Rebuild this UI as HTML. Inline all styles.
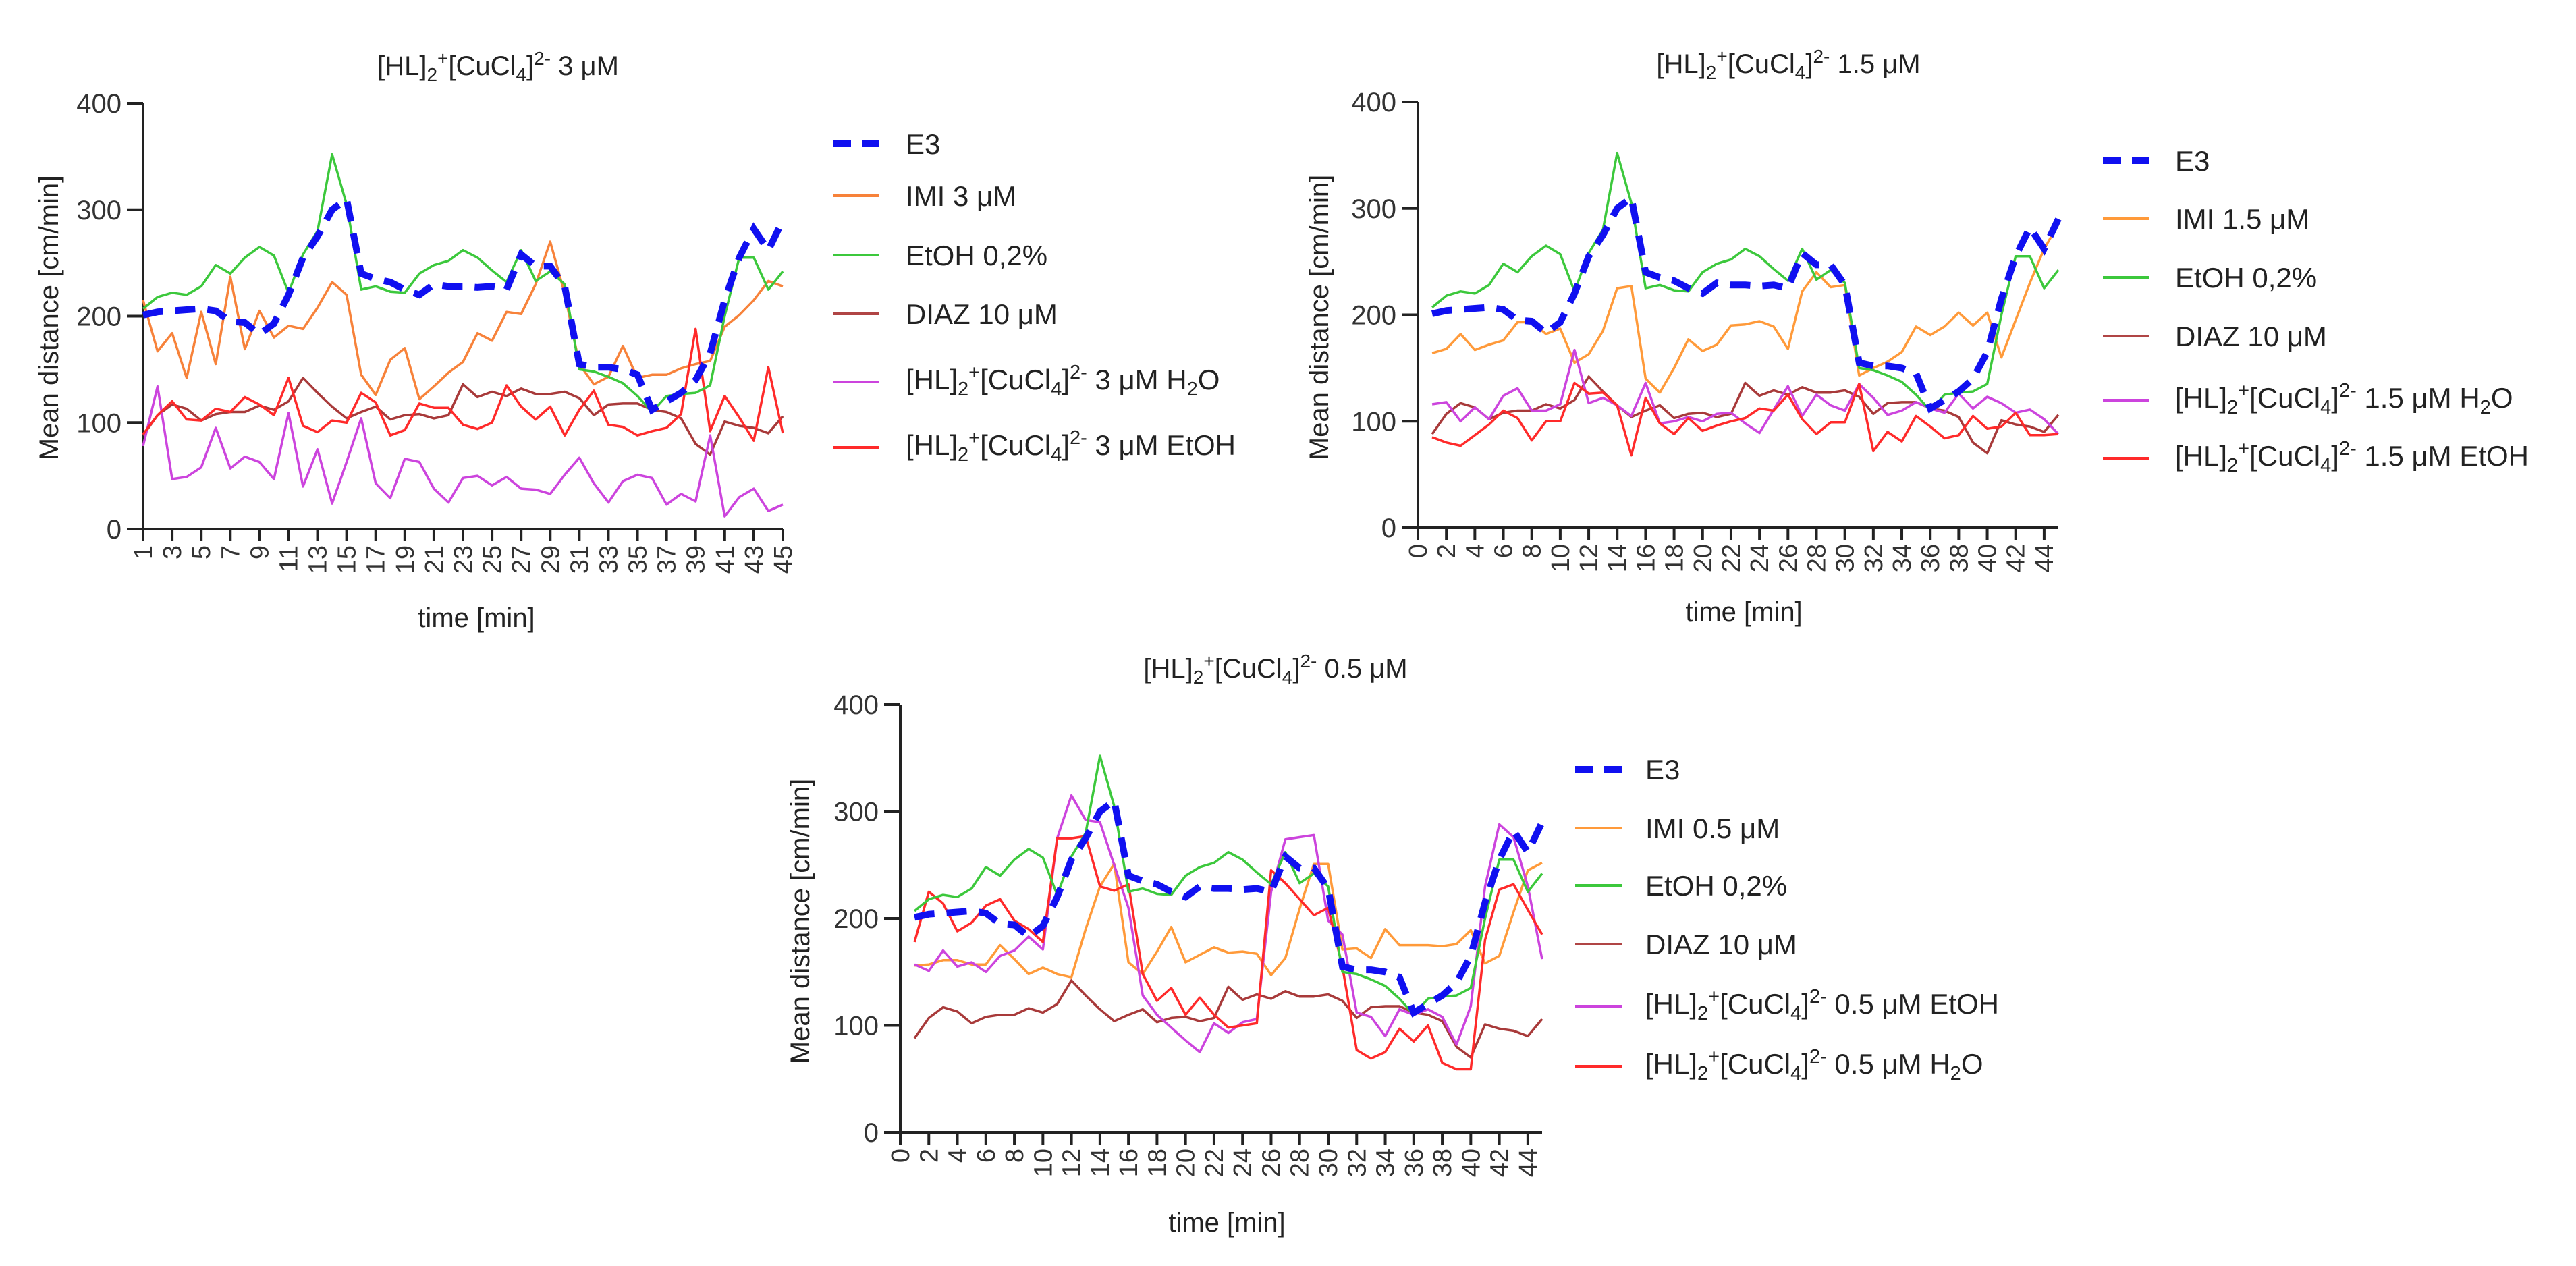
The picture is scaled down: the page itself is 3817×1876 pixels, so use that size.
<!DOCTYPE html>
<html><head><meta charset="utf-8"><style>
html,body{margin:0;padding:0;background:#fff;}
svg{display:block;font-family:"Liberation Sans",Arial,sans-serif;}
</style></head><body>
<svg id="fig" width="3817" height="1876" viewBox="0 0 3817 1876" xmlns="http://www.w3.org/2000/svg">
<rect width="3817" height="1876" fill="#fff"/>
<!-- titles -->
<text x="738" y="111" font-size="40" text-anchor="middle" fill="#222">[HL]<tspan font-size="28" dy="9">2</tspan><tspan font-size="28" dy="-24">+</tspan><tspan dy="15">[CuCl</tspan><tspan font-size="28" dy="9">4</tspan><tspan dy="-9">]</tspan><tspan font-size="28" dy="-15">2-</tspan><tspan dy="15"> 3 μM</tspan></text>
<text x="2650" y="108" font-size="40" text-anchor="middle" fill="#222">[HL]<tspan font-size="28" dy="9">2</tspan><tspan font-size="28" dy="-24">+</tspan><tspan dy="15">[CuCl</tspan><tspan font-size="28" dy="9">4</tspan><tspan dy="-9">]</tspan><tspan font-size="28" dy="-15">2-</tspan><tspan dy="15"> 1.5 μM</tspan></text>
<text x="1890" y="1004" font-size="40" text-anchor="middle" fill="#222">[HL]<tspan font-size="28" dy="9">2</tspan><tspan font-size="28" dy="-24">+</tspan><tspan dy="15">[CuCl</tspan><tspan font-size="28" dy="9">4</tspan><tspan dy="-9">]</tspan><tspan font-size="28" dy="-15">2-</tspan><tspan dy="15"> 0.5 μM</tspan></text>
<!-- y labels -->
<text transform="translate(86,471) rotate(-90)" font-size="40" text-anchor="middle" fill="#222">Mean distance [cm/min]</text>
<text transform="translate(1968,470) rotate(-90)" font-size="40" text-anchor="middle" fill="#222">Mean distance [cm/min]</text>
<text transform="translate(1199,1365) rotate(-90)" font-size="40" text-anchor="middle" fill="#222">Mean distance [cm/min]</text>
<!-- x labels -->
<text x="706" y="929" font-size="40" text-anchor="middle" fill="#222">time [min]</text>
<text x="2584" y="920" font-size="40" text-anchor="middle" fill="#222">time [min]</text>
<text x="1818" y="1825" font-size="40" text-anchor="middle" fill="#222">time [min]</text>

<!-- legend chart 1 -->
<g font-size="42" fill="#222">
<line x1="1234" y1="213" x2="1303" y2="213" stroke="#1010f0" stroke-width="10" stroke-dasharray="27 16"/>
<text x="1342" y="228">E3</text>
<line x1="1234" y1="290" x2="1303" y2="290" stroke="#f7823a" stroke-width="4"/>
<text x="1342" y="305">IMI 3 μM</text>
<line x1="1234" y1="378" x2="1303" y2="378" stroke="#3cc83c" stroke-width="4"/>
<text x="1342" y="393">EtOH 0,2%</text>
<line x1="1234" y1="465" x2="1303" y2="465" stroke="#b04545" stroke-width="4"/>
<text x="1342" y="480">DIAZ 10 μM</text>
<line x1="1234" y1="566" x2="1303" y2="566" stroke="#cc44dd" stroke-width="4"/>
<text x="1342" y="577">[HL]<tspan font-size="29" dy="9">2</tspan><tspan font-size="29" dy="-25">+</tspan><tspan dy="16">[CuCl</tspan><tspan font-size="29" dy="9">4</tspan><tspan dy="-9">]</tspan><tspan font-size="29" dy="-16">2-</tspan><tspan dy="16"> 3 μM H</tspan><tspan font-size="29" dy="9">2</tspan><tspan dy="-9">O</tspan></text>
<line x1="1234" y1="663" x2="1303" y2="663" stroke="#ff2a2a" stroke-width="4"/>
<text x="1342" y="674">[HL]<tspan font-size="29" dy="9">2</tspan><tspan font-size="29" dy="-25">+</tspan><tspan dy="16">[CuCl</tspan><tspan font-size="29" dy="9">4</tspan><tspan dy="-9">]</tspan><tspan font-size="29" dy="-16">2-</tspan><tspan dy="16"> 3 μM EtOH</tspan></text>
</g>
<!-- legend chart 2 -->
<g font-size="42" fill="#222">
<line x1="3116" y1="238" x2="3185" y2="238" stroke="#1010f0" stroke-width="10" stroke-dasharray="27 16"/>
<text x="3223" y="253">E3</text>
<line x1="3116" y1="324" x2="3185" y2="324" stroke="#ff9a3a" stroke-width="4"/>
<text x="3223" y="339">IMI 1.5 μM</text>
<line x1="3116" y1="411" x2="3185" y2="411" stroke="#3cc83c" stroke-width="4"/>
<text x="3223" y="426">EtOH 0,2%</text>
<line x1="3116" y1="498" x2="3185" y2="498" stroke="#b04545" stroke-width="4"/>
<text x="3223" y="513">DIAZ 10 μM</text>
<line x1="3116" y1="593" x2="3185" y2="593" stroke="#cc44dd" stroke-width="4"/>
<text x="3223" y="604">[HL]<tspan font-size="29" dy="9">2</tspan><tspan font-size="29" dy="-25">+</tspan><tspan dy="16">[CuCl</tspan><tspan font-size="29" dy="9">4</tspan><tspan dy="-9">]</tspan><tspan font-size="29" dy="-16">2-</tspan><tspan dy="16"> 1.5 μM H</tspan><tspan font-size="29" dy="9">2</tspan><tspan dy="-9">O</tspan></text>
<line x1="3116" y1="679" x2="3185" y2="679" stroke="#ff2a2a" stroke-width="4"/>
<text x="3223" y="690">[HL]<tspan font-size="29" dy="9">2</tspan><tspan font-size="29" dy="-25">+</tspan><tspan dy="16">[CuCl</tspan><tspan font-size="29" dy="9">4</tspan><tspan dy="-9">]</tspan><tspan font-size="29" dy="-16">2-</tspan><tspan dy="16"> 1.5 μM EtOH</tspan></text>
</g>
<!-- legend chart 3 -->
<g font-size="42" fill="#222">
<line x1="2334" y1="1140" x2="2403" y2="1140" stroke="#1010f0" stroke-width="10" stroke-dasharray="27 16"/>
<text x="2438" y="1155">E3</text>
<line x1="2334" y1="1227" x2="2403" y2="1227" stroke="#ff9a3a" stroke-width="4"/>
<text x="2438" y="1242">IMI 0.5 μM</text>
<line x1="2334" y1="1312" x2="2403" y2="1312" stroke="#3cc83c" stroke-width="4"/>
<text x="2438" y="1327">EtOH 0,2%</text>
<line x1="2334" y1="1399" x2="2403" y2="1399" stroke="#b04545" stroke-width="4"/>
<text x="2438" y="1414">DIAZ 10 μM</text>
<line x1="2334" y1="1491" x2="2403" y2="1491" stroke="#cc44dd" stroke-width="4"/>
<text x="2438" y="1502">[HL]<tspan font-size="29" dy="9">2</tspan><tspan font-size="29" dy="-25">+</tspan><tspan dy="16">[CuCl</tspan><tspan font-size="29" dy="9">4</tspan><tspan dy="-9">]</tspan><tspan font-size="29" dy="-16">2-</tspan><tspan dy="16"> 0.5 μM EtOH</tspan></text>
<line x1="2334" y1="1580" x2="2403" y2="1580" stroke="#ff2a2a" stroke-width="4"/>
<text x="2438" y="1591">[HL]<tspan font-size="29" dy="9">2</tspan><tspan font-size="29" dy="-25">+</tspan><tspan dy="16">[CuCl</tspan><tspan font-size="29" dy="9">4</tspan><tspan dy="-9">]</tspan><tspan font-size="29" dy="-16">2-</tspan><tspan dy="16"> 0.5 μM H</tspan><tspan font-size="29" dy="9">2</tspan><tspan dy="-9">O</tspan></text>
</g>
</svg>
<script>
const time = [1,2,3,4,5,6,7,8,9,10,11,12,13,14,15,16,17,18,19,20,21,22,23,24,25,26,27,28,29,30,31,32,33,34,35,36,37,38,39,40,41,42,43,44,45];
const yTicks = [0,100,200,300,400];
const xTicksOdd = [1,3,5,7,9,11,13,15,17,19,21,23,25,27,29,31,33,35,37,39,41,43,45];
const xTicksEven = [0,2,4,6,8,10,12,14,16,18,20,22,24,26,28,30,32,34,36,38,40,42,44];
const e3 = [201,204,205,206,207,205,195,194,183,193,220,255,275,300,310,240,235,232,225,220,230,228,228,227,228,225,258,247,247,228,155,152,152,150,145,112,120,128,140,165,215,255,282,262,290];
const etoh = [207,218,222,220,228,248,240,255,265,257,222,258,280,352,305,225,228,223,222,240,248,252,262,255,243,232,262,233,242,230,150,148,143,137,125,110,125,127,128,135,200,255,255,225,242];
const diaz = [88,107,117,113,102,108,110,110,116,112,120,142,128,115,104,110,115,103,107,108,104,107,136,124,129,125,132,127,127,129,123,107,117,118,118,112,110,104,80,70,101,97,95,90,106];
const imi3 = [215,167,184,142,204,155,237,169,205,180,191,188,208,232,220,145,126,159,170,122,134,147,157,184,177,204,202,230,270,221,155,136,143,172,142,145,145,151,155,158,190,201,215,233,228];
const h2o3 = [78,134,47,49,58,95,57,68,63,47,109,40,75,24,63,104,43,29,66,63,38,25,48,50,41,49,38,37,33,51,67,43,25,45,51,48,23,33,26,88,12,30,38,17,23];
const etoh3 = [89,107,120,103,102,113,110,124,117,107,142,97,91,102,100,128,119,88,93,118,114,114,98,94,100,135,115,103,115,88,112,130,98,96,88,92,95,108,188,92,125,105,83,152,90];
const imi15 = [164,168,182,167,172,176,193,193,182,187,155,163,185,225,227,140,127,150,177,166,172,190,191,194,189,168,222,240,226,228,143,150,156,165,189,181,189,202,190,202,160,195,230,262,285];
const h2o15 = [116,118,100,113,102,124,131,110,110,116,167,117,122,115,105,136,98,100,104,100,107,108,98,89,111,133,105,125,115,110,135,122,106,110,118,112,108,126,112,123,117,108,111,102,88];
const etoh15 = [85,80,77,87,97,110,103,82,100,100,136,126,127,115,68,122,98,88,103,91,96,100,103,112,110,125,102,88,99,99,135,72,90,81,105,95,84,87,105,93,95,108,87,87,88];
const imi05 = [156,157,161,161,157,157,175,162,148,154,148,145,190,230,251,159,148,169,192,159,166,173,168,169,167,147,163,209,251,251,171,172,163,190,175,175,175,174,176,189,158,165,206,245,252];
const etoh05 = [157,151,170,155,159,150,165,170,183,171,275,315,292,290,250,210,128,110,98,86,75,102,93,103,106,225,274,276,278,198,185,112,108,90,115,110,115,108,82,118,230,288,276,230,162];
const h2o05 = [178,225,214,188,196,212,218,198,190,178,275,275,277,230,226,232,148,123,135,110,126,110,98,100,102,245,233,218,203,210,155,77,69,75,97,85,100,65,59,59,180,227,232,208,185];

const NS = 'http://www.w3.org/2000/svg';
const svg = document.getElementById('fig');
function mk(tag, attrs, parent){
  const el = document.createElementNS(NS, tag);
  for (const k in attrs) el.setAttribute(k, attrs[k]);
  (parent || svg).appendChild(el);
  return el;
}
const charts = [
  {id:'chart1', axisX:212, tmin:1, tmax:45, xEnd:1160, y0:784, y400:153, ticks:xTicksOdd,
   series:[['imi',imi3,'#f7823a'],['diaz',diaz,'#a83a3a'],['h2o',h2o3,'#cc44dd'],['etoh-compound',etoh3,'#ff2a2a'],['etoh',etoh,'#3cc83c']]},
  {id:'chart2', axisX:2101, tmin:0, tmax:45, xEnd:3050, y0:782, y400:151, ticks:xTicksEven,
   series:[['imi',imi15,'#ff9a3a'],['diaz',diaz,'#a83a3a'],['h2o',h2o15,'#cc44dd'],['etoh-compound',etoh15,'#ff2a2a'],['etoh',etoh,'#3cc83c']]},
  {id:'chart3', axisX:1334, tmin:0, tmax:45, xEnd:2285, y0:1678, y400:1044, ticks:xTicksEven,
   series:[['imi',imi05,'#ff9a3a'],['diaz',diaz,'#a83a3a'],['etoh-compound',etoh05,'#cc44dd'],['h2o',h2o05,'#ff2a2a'],['etoh',etoh,'#3cc83c']]}
];
charts.forEach(c => {
  const X = t => c.axisX + (t - c.tmin) * (c.xEnd - c.axisX) / (c.tmax - c.tmin);
  const Y = v => c.y0 - v * (c.y0 - c.y400) / 400;
  const g = mk('g', {});
  
  
  const ya = mk('line', {x1:c.axisX, y1:Y(400), x2:c.axisX, y2:c.y0, stroke:'#222', 'stroke-width':4}, g);
  
  
  const xa = mk('line', {x1:c.axisX-2, y1:c.y0, x2:c.xEnd, y2:c.y0, stroke:'#222', 'stroke-width':4}, g);
  
  
  yTicks.forEach(v => {
    mk('line', {x1:c.axisX-24, y1:Y(v), x2:c.axisX, y2:Y(v), stroke:'#222', 'stroke-width':4}, g);
    const t = mk('text', {x:c.axisX-32, y:Y(v)+14, 'font-size':40, 'text-anchor':'end', fill:'#333'}, g);
    
    
    t.textContent = v;
  });
  c.ticks.forEach(tv => {
    const x = X(tv);
    mk('line', {x1:x, y1:c.y0, x2:x, y2:c.y0+18, stroke:'#222', 'stroke-width':4}, g);
    const t = mk('text', {transform:'translate(' + (x+13) + ',' + (c.y0+24) + ') rotate(-90)', 'font-size':38, 'text-anchor':'end', fill:'#333'}, g);
    
    
    t.textContent = tv;
  });
  c.series.forEach(s => {
    const pts = s[1].map((v, i) => X(time[i]).toFixed(1) + ',' + Y(v).toFixed(1)).join(' ');
    const p = mk('polyline', {points:pts, fill:'none', stroke:s[2], 'stroke-width':3.5, 'stroke-linejoin':'round'});
    
    
  });
  const pe = mk('polyline', {points:e3.map((v, i) => X(time[i]).toFixed(1) + ',' + Y(v).toFixed(1)).join(' '), fill:'none', stroke:'#1010f0', 'stroke-width':10, 'stroke-dasharray':'30 18'});
  
  
});
</script>
</body></html>
